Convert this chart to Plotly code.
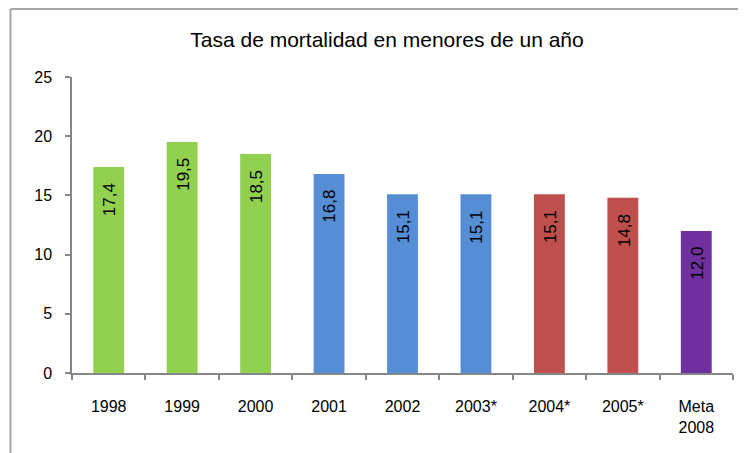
import plotly.graph_objects as go

categories = ["1998", "1999", "2000", "2001", "2002", "2003*", "2004*", "2005*", "Meta<br>2008"]
values = [17.4, 19.5, 18.5, 16.8, 15.1, 15.1, 15.1, 14.8, 12.0]
bar_colors = ["#92D050", "#92D050", "#92D050", "#558ED5", "#558ED5", "#558ED5",
              "#C0504D", "#C0504D", "#7030A0"]
y_ticks = [0, 5, 10, 15, 20, 25]
title_text = "Tasa de mortalidad en menores de un año"

labels = [f"{v:.1f}".replace(".", ",") for v in values]
font_main = "Liberation Sans, Arial, sans-serif"

# page has an 8px body margin; work in page coordinates and shift
OFF = 8
W, H = 746 - OFF, 453 - OFF
plot_left, plot_right, plot_top, plot_bottom = 72, 733, 77, 373
L = plot_left - OFF
T = plot_top - OFF
R = W - (plot_right - OFF)
B = H - (plot_bottom - OFF)
pw, ph = W - L - R, H - T - B

def px(x):
    return (x - OFF - L) / pw

def py(y):
    return (H - B - (y - OFF)) / ph

fig = go.Figure(go.Bar(
    x=categories, y=values, marker_color=bar_colors, marker_line_width=0,
))

for i, (v, t) in enumerate(zip(values, labels)):
    fig.add_annotation(x=i, y=v, text=t, textangle=-90, showarrow=False,
                       xanchor="center", yanchor="top", yshift=-14, xshift=1,
                       font=dict(family=font_main, size=17, color="black"))

border = "#A6A6A6"
fig.add_shape(type="line", xref="paper", yref="paper", x0=px(10.5), x1=px(760), y0=py(9), y1=py(9),
              line=dict(color=border, width=2))
fig.add_shape(type="line", xref="paper", yref="paper", x0=px(10.5), x1=px(10.5), y0=py(9), y1=py(470),
              line=dict(color=border, width=2))

fig.update_layout(
    width=W, height=H,
    margin=dict(l=L, r=R, t=T, b=B),
    paper_bgcolor="white", plot_bgcolor="white",
    showlegend=False,
    bargap=0.58,
    title=dict(text=title_text, x=(387 - OFF) / W, xanchor="center", y=1 - (40 - OFF) / H, yanchor="middle",
               font=dict(family=font_main, size=21, color="black")),
    font=dict(family=font_main, size=16, color="black"),
)
fig.update_yaxes(range=[0, 25], tickvals=y_ticks, showgrid=False, zeroline=False,
                 showline=True, linecolor="#868686", linewidth=1.5,
                 ticks="outside", ticklen=5, tickcolor="#868686", tickwidth=1.5,
                 ticklabelstandoff=10, tickfont=dict(family=font_main, size=16, color="black"))
fig.update_xaxes(type="category", range=[-0.5, len(categories) - 0.5], showgrid=False,
                 showline=True, linecolor="#868686", linewidth=2,
                 ticks="outside", tickson="boundaries", ticklen=5, tickcolor="#868686", tickwidth=1.5,
                 ticklabelstandoff=18, tickangle=0, tickfont=dict(family=font_main, size=16, color="black"))

fig.write_html("out.html")
